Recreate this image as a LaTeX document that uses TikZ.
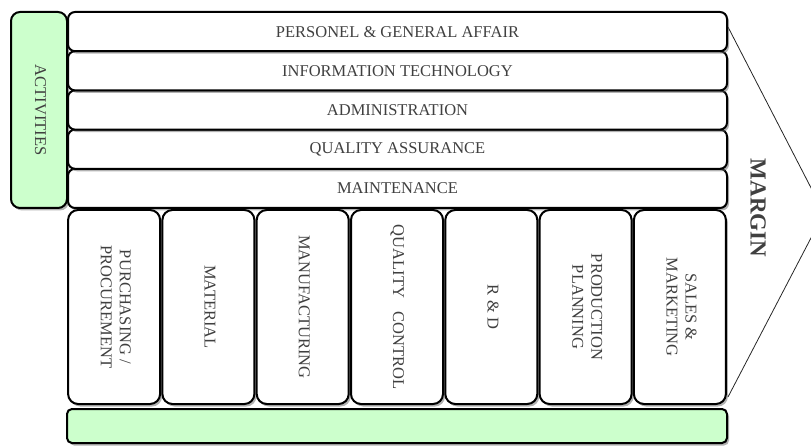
\documentclass[tikz,border=0pt]{standalone}
\usepackage{fontspec}
\setmainfont{Liberation Serif}
\usepackage{graphicx}
\usetikzlibrary{shadows}
\definecolor{lightgreen}{RGB}{204,255,204}
\definecolor{txtgray}{RGB}{64,64,64}
\newcommand{\vlabel}[1]{\rotatebox{-90}{\begin{tabular}{@{}c@{}}#1\end{tabular}}}

\begin{document}
\begin{tikzpicture}[x=1pt,y=-1pt,
  box/.style={draw, line width=2pt, rounded corners=7pt, fill=white, text=txtgray,
    font=\fontsize{16.5}{19}\selectfont, inner sep=0pt,
    drop shadow={shadow xshift=2pt, shadow yshift=-2.5pt, fill=black!60}},
  row/.style={box, minimum width=659pt, minimum height=39.2pt},
  col/.style={box, rounded corners=10pt, minimum width=92pt, minimum height=194pt}]
  \useasboundingbox (0,0) rectangle (811,446);

  % margin arrow
  \coordinate (m1) at (728,27);
  \coordinate (tip) at (824,213);
  \coordinate (m2) at (728,397);
  \draw [line width=0.8pt, black!85] (m1) -- (tip) -- (m2);
  \node (margin) at (758,208) [text=txtgray, rotate=-90, font=\fontsize{23}{26}\selectfont\bfseries] {MARGIN} ;

  \node (act) at (39,110) [box, fill=lightgreen, rounded corners=9pt, minimum width=56pt, minimum height=196pt] {\vlabel{ACTIVITIES}} ;

  % support activities
  \node (r5) at (397.5,188.4) [row] {MAINTENANCE} ;
  \node (r4) at (397.5,149.2) [row] {QUALITY ASSURANCE} ;
  \node (r3) at (397.5,110) [row] {ADMINISTRATION} ;
  \node (r2) at (397.5,70.8) [row] {INFORMATION TECHNOLOGY} ;
  \node (r1) at (397.5,31.6) [row] {PERSONEL \& GENERAL AFFAIR} ;

  % primary activities
  \node (c1) at (114.1,307) [col] {\vlabel{PURCHASING /\\PROCUREMENT}} ;
  \node (c2) at (208.4,307) [col] {\vlabel{MATERIAL}} ;
  \node (c3) at (302.7,307) [col] {\vlabel{MANUFACTURING}} ;
  \node (c4) at (397,307) [col] {\vlabel{QUALITY\hspace{0.8em}CONTROL}} ;
  \node (c5) at (491.3,307) [col] {\vlabel{R \& D}} ;
  \node (c6) at (585.6,307) [col] {\vlabel{PRODUCTION\\PLANNING}} ;
  \node (c7) at (679.9,307) [col] {\vlabel{SALES \&\\MARKETING}} ;

  \node (base) at (397,426) [box, fill=lightgreen, rounded corners=5pt, minimum width=660pt, minimum height=34pt] {} ;
\end{tikzpicture}
\end{document}
